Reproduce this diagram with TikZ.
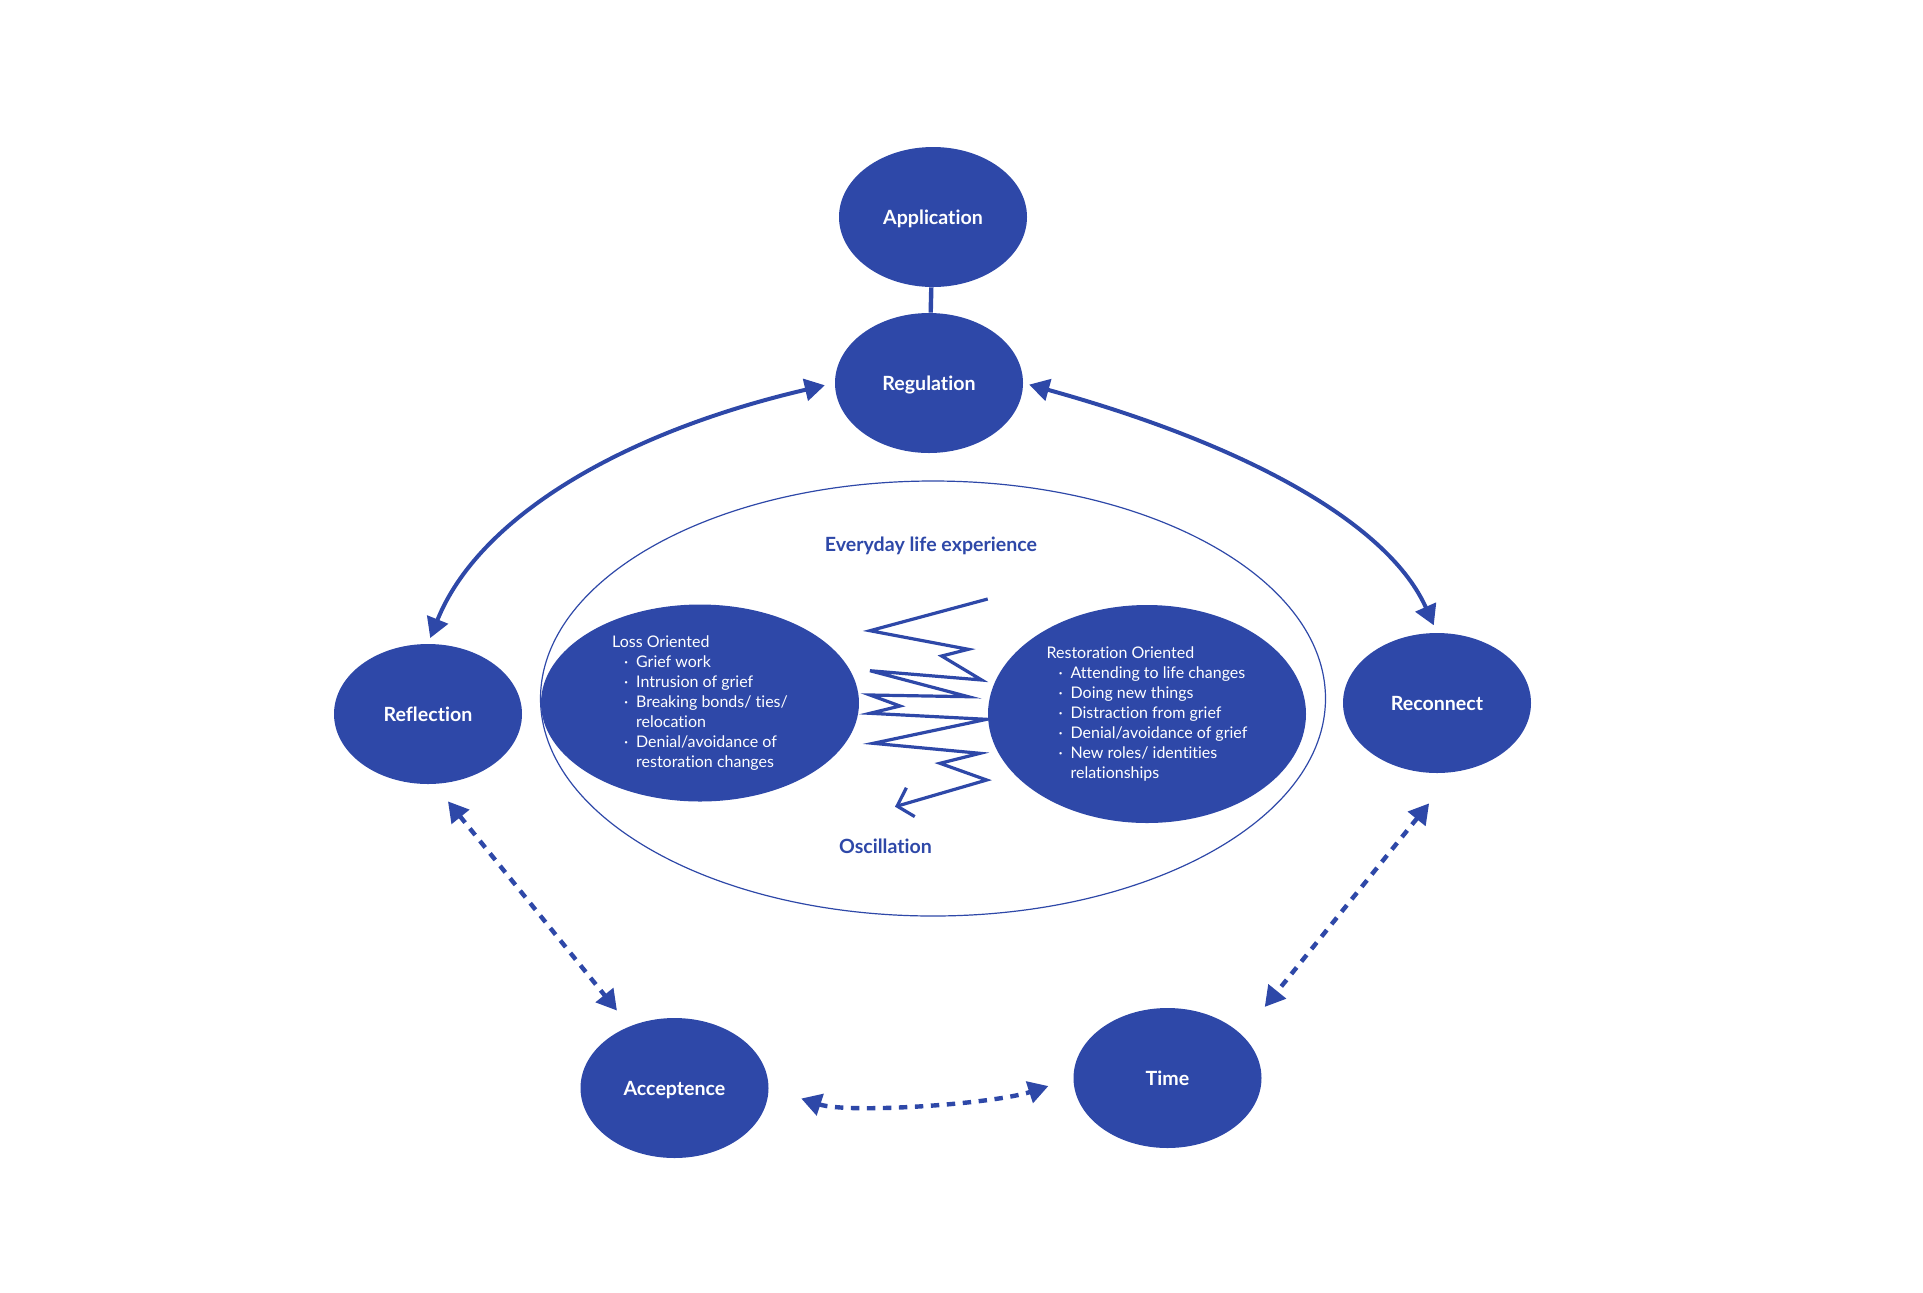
\documentclass[tikz,border=0pt]{standalone}
\usepackage{fontspec}
\setmainfont{Lato}[Ligatures=NoCommon]
\usepackage{tikz}
\usetikzlibrary{arrows.meta, shapes.geometric}

\definecolor{griefblue}{RGB}{46,72,168}
\newcommand{\bul}{\hspace*{6pt}\makebox[6pt][l]{·}}
\newcommand{\cont}{\hspace*{12pt}}

\begin{document}
\begin{tikzpicture}[x=0.5pt, y=-0.5pt,
  stage/.style={ellipse, fill=griefblue, text=white, inner sep=0pt,
    minimum width=94pt, minimum height=70pt, text depth=0pt,
    font=\fontsize{9.8}{12}\selectfont\bfseries},
  side/.style={ellipse, fill=griefblue, text=white, inner sep=0pt,
    align=left, minimum width=159pt, font=\fontsize{8}{10}\selectfont},
  caption/.style={text=griefblue, font=\fontsize{9.8}{12}\selectfont\bfseries},
  >={Triangle[length=10pt, width=11pt]},
  solidlink/.style={griefblue, line width=2pt, <->},
  dashlink/.style={griefblue, line width=2.2pt, <->, dash pattern=on 4.2pt off 3.8pt}]
  \useasboundingbox (0,0) rectangle (1923,1292);
  % everyday life
  \node[draw=griefblue, line width=0.6pt, ellipse, minimum width=392.5pt,
    minimum height=217.5pt] (life) at (933,698.5) {};
  \node[caption] (everyday) at (931,545.5) {Everyday life experience};
  \node[caption] (osc) at (885.5,846) {Oscillation};
  % stages
  \node[stage] (app) at (933,217) {Application};
  \node[stage] (reg) at (929,383) {Regulation};
  \node[stage] (refl) at (428,714) {Reflection};
  \node[stage] (recon) at (1437,703) {Reconnect};
  \node[stage] (acc) at (674.5,1088) {Acceptence};
  \node[stage] (time) at (1167.5,1078) {Time};
  % dual process
  \node[side, minimum height=98.5pt] (loss) at (700,703) {Loss Oriented\\
    \bul Grief work\\
    \bul Intrusion of grief\\
    \bul Breaking bonds/ ties/\\
    \cont relocation\\
    \bul Denial/avoidance of\\
    \cont restoration changes};
  \node[side, minimum height=109pt] (rest) at (1147,714) {Restoration Oriented\\
    \bul Attending to life changes\\
    \bul Doing new things\\
    \bul Distraction from grief\\
    \bul Denial/avoidance of grief\\
    \bul New roles/ identities\\
    \cont relationships};
  % oscillation
  \draw[griefblue, line width=1.6pt, -{Straight Barb[length=7pt, width=15pt]}]
    (987.7,599) -- (870,630.7) -- (968.3,649.3) -- (941.7,656) -- (981.7,680)
    -- (870,670.7) -- (968.3,696.7) -- (870,695) -- (900,706) -- (870,713.3)
    -- (986.7,719.3) -- (873.3,743.3) -- (980,753.3) -- (940,763.3)
    -- (986.7,780) -- (895,806.7);
  % links
  \draw[griefblue, line width=2.2pt] (app) -- (reg);
  \draw[solidlink, shorten <=3pt, shorten >=5pt]
    (refl.north) .. controls +(50,-125) and +(-215,50) .. (reg.west);
  \draw[solidlink, shorten <=3pt, shorten >=4pt]
    (reg.east) .. controls +(231,64) and +(-47,-106) .. (recon.north);
  \draw[dashlink, shorten <=11pt, shorten >=10pt] (refl.-85) -- (acc.126);
  \draw[dashlink, shorten <=20pt, shorten >=18pt] (recon.-76) -- (time.30);
  \draw[dashlink, shorten <=17pt, shorten >=13pt]
    (acc.east) .. controls +(80,26) and +(-80,26) .. (time.west);
\end{tikzpicture}
\end{document}
